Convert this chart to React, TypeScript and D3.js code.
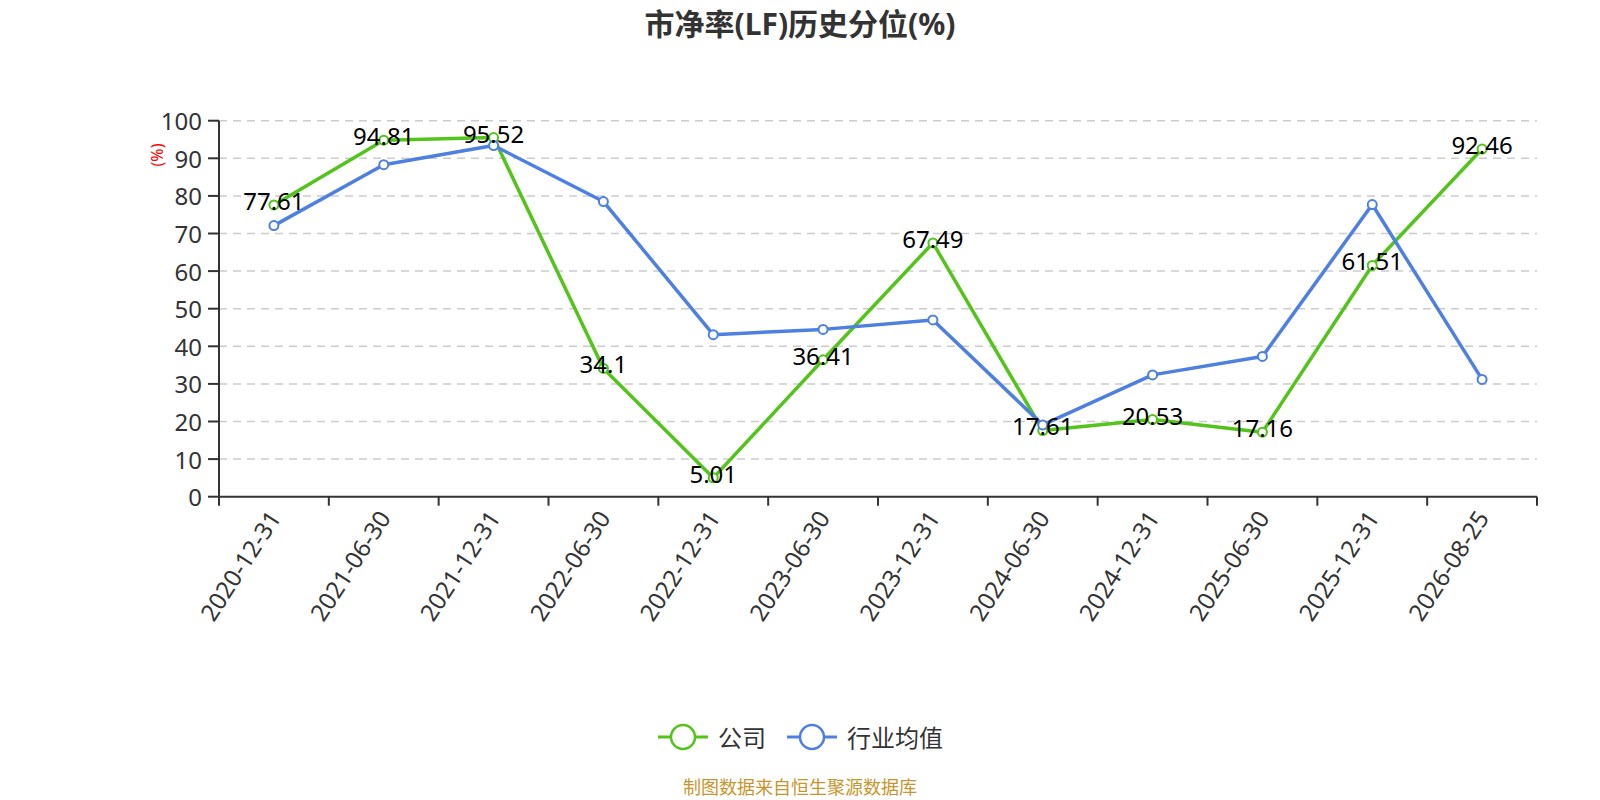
import React from 'react';
import * as d3 from 'd3';

const categories = [
    '2020-12-31', '2021-06-30', '2021-12-31', '2022-06-30', '2022-12-31', '2023-06-30',
    '2023-12-31', '2024-06-30', '2024-12-31', '2025-06-30', '2025-12-31', '2026-08-25',
];
const companyValues = [77.61, 94.81, 95.52, 34.1, 5.01, 36.41, 67.49, 17.61, 20.53, 17.16, 61.51, 92.46];
const industryValues = [72.1, 88.3, 93.4, 78.5, 43.1, 44.5, 47.0, 19.1, 32.4, 37.3, 77.7, 31.2];
const yTicks = [0, 10, 20, 30, 40, 50, 60, 70, 80, 90, 100];
const seriesNames = ['公司', '行业均值'];

const GREEN = '#52c41a';
const BLUE = '#4d80e1';
const FONT = '"Noto Sans", "Noto Sans CJK SC", sans-serif';

const width = 1600;
const height = 800;
const left = 219;
const right = 1537;
const top = 120.7;
const bottom = 496.7;

const App = () => {
    const x = d3.scaleBand<string>().domain(categories).range([left, right]);
    const y = d3.scaleLinear().domain([0, 100]).range([bottom, top]);
    const cx = (c: string) => x(c)! + x.bandwidth() / 2;

    const line = d3
        .line<number>()
        .x((_, i) => cx(categories[i]))
        .y((d) => y(d));

    const series = [
        { name: seriesNames[0], values: companyValues, color: GREEN },
        { name: seriesNames[1], values: industryValues, color: BLUE },
    ];

    // boundaries of bands for the x ticks
    const xTickPos = categories.map((c) => x(c)!).concat([right]);

    return (
        <div style={{ position: 'fixed', left: 0, top: 0 }}>
            <svg width={width} height={height} style={{ display: 'block', fontFamily: FONT }}>
                <rect width={width} height={height} fill="#fff" />

                <text x={800} y={23} textAnchor="middle" dominantBaseline="central"
                    fontSize={30} fontWeight="bold" fill="#333">
                    市净率(LF)历史分位(%)
                </text>

                {/* grid */}
                {yTicks.filter((t) => t > 0).map((t) => (
                    <line key={t} x1={left} x2={right} y1={y(t)} y2={y(t)}
                        stroke="#ccc" strokeWidth={1.5} strokeDasharray="8,6" />
                ))}

                {/* y axis */}
                <line x1={left} x2={left} y1={top} y2={bottom} stroke="#333" strokeWidth={2} />
                {yTicks.map((t) => (
                    <g key={t}>
                        <line x1={208} x2={left} y1={y(t)} y2={y(t)} stroke="#333" strokeWidth={2} />
                        <text x={202} y={y(t)} textAnchor="end" dominantBaseline="central"
                            fontSize={24} fill="#333">{t}</text>
                    </g>
                ))}
                <text transform="translate(157,155) rotate(-90)" textAnchor="middle"
                    dominantBaseline="central" fontSize={16} fill="red">(%)</text>

                {/* x axis */}
                <line x1={left} x2={right} y1={bottom} y2={bottom} stroke="#333" strokeWidth={2} />
                {xTickPos.map((p, i) => (
                    <line key={i} x1={p} x2={p} y1={bottom} y2={bottom + 9} stroke="#333" strokeWidth={2} />
                ))}
                {categories.map((c) => (
                    <text key={c} transform={`translate(${cx(c)},${bottom + 16}) rotate(-57)`}
                        textAnchor="end" dominantBaseline="central" fontSize={24} fill="#333">{c}</text>
                ))}

                {/* series */}
                {series.map((s) => (
                    <g key={s.name}>
                        <path d={line(s.values)!} fill="none" stroke={s.color} strokeWidth={3.5}
                            strokeLinejoin="round" />
                        {s.values.map((v, i) => (
                            <circle key={i} cx={cx(categories[i])} cy={y(v)} r={4.5}
                                fill="#fff" stroke={s.color} strokeWidth={2} />
                        ))}
                    </g>
                ))}

                {/* labels */}
                {companyValues.map((v, i) => (
                    <text key={i} x={cx(categories[i])} y={y(v) + 5} textAnchor="middle"
                        fontSize={24} fill="#000">{v}</text>
                ))}

                {/* legend */}
                {series.map((s, i) => {
                    const lx = i === 0 ? 658 : 787;
                    return (
                        <g key={s.name}>
                            <line x1={lx} x2={lx + 50} y1={737} y2={737} stroke={s.color} strokeWidth={3} />
                            <circle cx={lx + 25} cy={737} r={12} fill="#fff" stroke={s.color} strokeWidth={2.5} />
                            <text x={lx + 60} y={737} dominantBaseline="central" fontSize={24} fill="#333">
                                {s.name}
                            </text>
                        </g>
                    );
                })}

                <text x={800} y={787} textAnchor="middle" dominantBaseline="central"
                    fontSize={18} fill="#c8952c">制图数据来自恒生聚源数据库</text>
            </svg>
        </div>
    );
};

export default App;
